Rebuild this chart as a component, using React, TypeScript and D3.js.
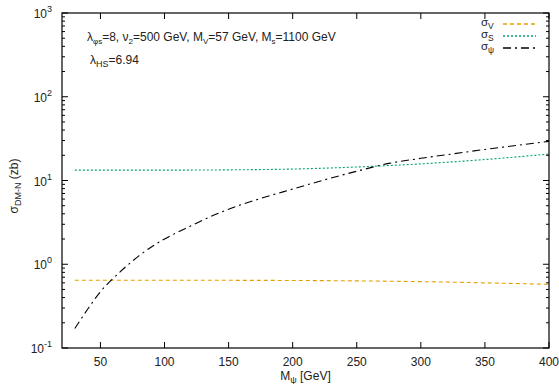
import React from "react";
import * as d3 from "d3";

const massV = [30, 50, 100, 150, 200, 250, 300, 350, 400];
const sigmaV = [0.645, 0.645, 0.645, 0.643, 0.64, 0.633, 0.62, 0.6, 0.576];

const massS = [30, 50, 100, 150, 200, 250, 300, 350, 400];
const sigmaS = [13.3, 13.3, 13.3, 13.4, 13.7, 14.5, 15.8, 17.8, 20.7];

const massPsi = [30, 40, 50, 60, 70, 80, 90, 100, 120, 140, 150, 175, 200, 225, 250, 275, 300, 325, 350, 375, 400];
const sigmaPsi = [0.171, 0.29, 0.47, 0.68, 0.94, 1.26, 1.62, 2.0, 2.85, 3.95, 4.55, 6.1, 7.9, 10.2, 12.9, 16.0, 18.4, 20.8, 23.5, 26.3, 29.3];

const xTicks = [50, 100, 150, 200, 250, 300, 350, 400];
const yExponents = [-1, 0, 1, 2, 3];

const W = 559, H = 384;
const L = 62, R = 549, T = 13, B = 348;
const FONT = "Liberation Sans, Arial, Helvetica, sans-serif";

export default function App() {
  const x = d3.scaleLinear().domain([20, 400]).range([L, R]);
  const y = d3.scaleLog().domain([0.1, 1000]).range([B, T]);

  const line = d3.line<[number, number]>()
    .x((d) => x(d[0]))
    .y((d) => y(d[1]))
    .curve(d3.curveMonotoneX);

  const series = [
    { m: massV, s: sigmaV, color: "#E69F00", dash: "4,3", label: "V" },
    { m: massS, s: sigmaS, color: "#009E73", dash: "2,2", label: "S" },
    { m: massPsi, s: sigmaPsi, color: "#000000", dash: "8,4,2,4", label: "ψ" },
  ];

  const minor: number[] = [];
  for (let e = -1; e < 3; e++) {
    for (let k = 2; k <= 9; k++) minor.push(k * Math.pow(10, e));
  }

  return (
    <svg width={W} height={H} style={{ position: "absolute", left: 0, top: 0 }} fontFamily={FONT}>
      <rect x={0} y={0} width={W} height={H} fill="white" />
      {series.map((sr, i) => (
        <path
          key={i}
          d={line(sr.m.map((m, j) => [m, sr.s[j]] as [number, number])) || ""}
          fill="none"
          stroke={sr.color}
          strokeWidth={1.1}
          strokeDasharray={sr.dash}
        />
      ))}
      {/* frame */}
      <rect x={L} y={T} width={R - L} height={B - T} fill="none" stroke="black" strokeWidth={1.2} />
      {/* x ticks */}
      {xTicks.map((t) => (
        <g key={t}>
          <line x1={x(t)} x2={x(t)} y1={B} y2={B - 6} stroke="black" />
          <line x1={x(t)} x2={x(t)} y1={T} y2={T + 6} stroke="black" />
          <text x={x(t)} y={366} fontSize={12} textAnchor="middle" fill="#222">{t}</text>
        </g>
      ))}
      {/* y ticks */}
      {yExponents.map((e) => {
        const yy = y(Math.pow(10, e));
        return (
          <g key={e}>
            <line x1={L} x2={L + 6} y1={yy} y2={yy} stroke="black" />
            <line x1={R} x2={R - 6} y1={yy} y2={yy} stroke="black" />
            <text x={52} y={yy + 5} fontSize={12} textAnchor="end" fill="#222">
              10<tspan dy={-6} fontSize={9}>{e}</tspan>
            </text>
          </g>
        );
      })}
      {minor.map((v, i) => (
        <g key={i}>
          <line x1={L} x2={L + 3} y1={y(v)} y2={y(v)} stroke="black" />
          <line x1={R} x2={R - 3} y1={y(v)} y2={y(v)} stroke="black" />
        </g>
      ))}
      {/* axis labels */}
      <text x={(L + R) / 2} y={380} fontSize={12} textAnchor="middle" fill="#222">
        M<tspan dy={3} fontSize={9}>ψ</tspan><tspan dy={-3}> [GeV]</tspan>
      </text>
      <text transform="translate(18,186) rotate(-90)" fontSize={12} textAnchor="middle" fill="#222">
        σ<tspan dy={3} fontSize={9}>DM-N</tspan><tspan dy={-3}> (zb)</tspan>
      </text>
      {/* annotations */}
      <text x={87} y={41} fontSize={12} fill="#222">
        λ<tspan dy={3} fontSize={8}>φs</tspan>
        <tspan dy={-3}>=8, ν</tspan><tspan dy={3} fontSize={8}>2</tspan>
        <tspan dy={-3}>=500 GeV, M</tspan><tspan dy={3} fontSize={8}>V</tspan>
        <tspan dy={-3}>=57 GeV, M</tspan><tspan dy={3} fontSize={8}>s</tspan>
        <tspan dy={-3}>=1100 GeV</tspan>
      </text>
      <text x={90} y={64} fontSize={12} fill="#222">
        λ<tspan dy={3} fontSize={9}>HS</tspan><tspan dy={-3}>=6.94</tspan>
      </text>
      {/* legend */}
      {series.map((sr, i) => {
        const ly = 24 + i * 12;
        return (
          <g key={i}>
            <text x={481} y={ly + 2} fontSize={11.5} fill="#222">
              σ<tspan dy={2.5} fontSize={8.5}>{sr.label}</tspan>
            </text>
            <line x1={503} x2={536} y1={ly} y2={ly} stroke={sr.color} strokeWidth={1.4} strokeDasharray={sr.dash} />
          </g>
        );
      })}
    </svg>
  );
}
